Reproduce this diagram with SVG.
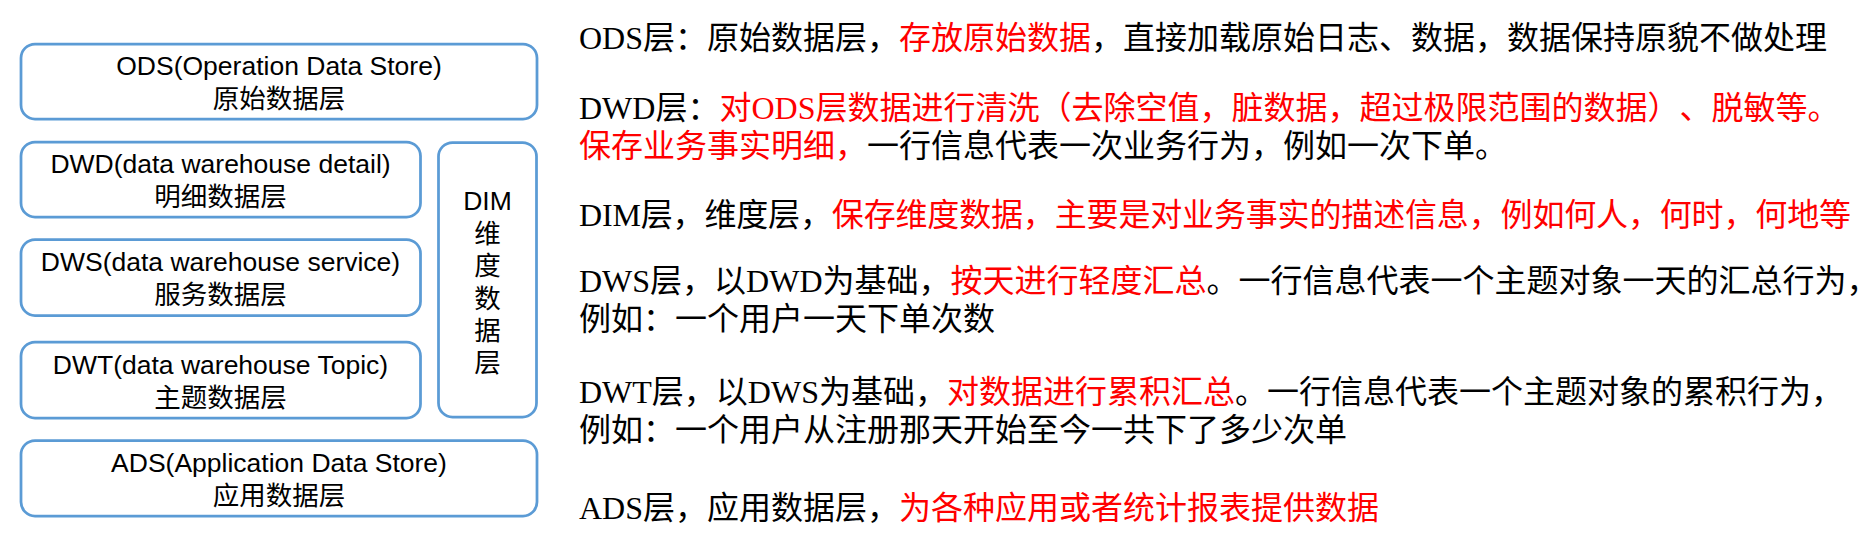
<svg xmlns="http://www.w3.org/2000/svg" width="1863" height="554" viewBox="0 0 1863 554">
<style>
.box{fill:#ffffff;stroke:#5B9BD5;stroke-width:2.75}
.lbl{font-family:"Liberation Sans","Noto Sans CJK SC",sans-serif;font-size:26.5px;fill:#000000;text-anchor:middle}
.desc{font-family:"Liberation Serif","Noto Sans CJK SC",serif;font-size:32px;fill:#000000;text-spacing-trim:space-all}
.red{fill:#FF0000}
</style>
<rect x="0" y="0" width="1863" height="554" fill="#ffffff"/>
<g id="node-ods">
<rect class="box" x="21" y="44" width="516" height="75" rx="14" ry="14"/>
<text class="lbl" x="279" y="75">ODS(Operation Data Store)</text>
<text class="lbl" x="279" y="108">原始数据层</text>
</g>
<g id="node-dwd">
<rect class="box" x="21" y="142" width="399.5" height="75" rx="14" ry="14"/>
<text class="lbl" x="220.5" y="173">DWD(data warehouse detail)</text>
<text class="lbl" x="220.5" y="206">明细数据层</text>
</g>
<g id="node-dws">
<rect class="box" x="21" y="239.5" width="399.5" height="76" rx="14" ry="14"/>
<text class="lbl" x="220.5" y="270.5">DWS(data warehouse service)</text>
<text class="lbl" x="220.5" y="303.5">服务数据层</text>
</g>
<g id="node-dwt">
<rect class="box" x="21" y="342" width="399.5" height="76" rx="14" ry="14"/>
<text class="lbl" x="220.5" y="373.5">DWT(data warehouse Topic)</text>
<text class="lbl" x="220.5" y="407">主题数据层</text>
</g>
<g id="node-dim">
<rect class="box" x="438.5" y="142.5" width="98" height="274.5" rx="14" ry="14"/>
<text class="lbl" x="487.5" y="210">DIM</text>
<text class="lbl" x="487.5" y="243">维</text>
<text class="lbl" x="487.5" y="275.3">度</text>
<text class="lbl" x="487.5" y="307.6">数</text>
<text class="lbl" x="487.5" y="340">据</text>
<text class="lbl" x="487.5" y="372">层</text>
</g>
<g id="node-ads">
<rect class="box" x="21" y="440.5" width="516" height="75.5" rx="14" ry="14"/>
<text class="lbl" x="279" y="471.5">ADS(Application Data Store)</text>
<text class="lbl" x="279" y="505">应用数据层</text>
</g>
<g id="connectors"/>
<g id="descriptions">
<text class="desc" x="579" y="48.5">ODS层：原始数据层，<tspan class="red">存放原始数据</tspan>，直接加载原始日志、数据，数据保持原貌不做处理</text>
<text class="desc" x="579" y="118.5">DWD层：<tspan class="red">对ODS层数据进行清洗（去除空值，脏数据，超过极限范围的数据）、脱敏等。</tspan></text>
<text class="desc" x="579" y="156.5"><tspan class="red">保存业务事实明细，</tspan>一行信息代表一次业务行为，例如一次下单。</text>
<text class="desc" x="579" y="225.5" textLength="1272" lengthAdjust="spacing">DIM层，维度层，<tspan class="red">保存维度数据，主要是对业务事实的描述信息，例如何人，何时，何地等</tspan></text>
<text class="desc" x="579" y="292">DWS层，以DWD为基础，<tspan class="red">按天进行轻度汇总</tspan>。一行信息代表一个主题对象一天的汇总行为，</text>
<text class="desc" x="579" y="330">例如：一个用户一天下单次数</text>
<text class="desc" x="579" y="402.5">DWT层，以DWS为基础，<tspan class="red">对数据进行累积汇总</tspan>。一行信息代表一个主题对象的累积行为，</text>
<text class="desc" x="579" y="440.5">例如：一个用户从注册那天开始至今一共下了多少次单</text>
<text class="desc" x="579" y="518.5">ADS层，应用数据层，<tspan class="red">为各种应用或者统计报表提供数据</tspan></text>
</g>
</svg>
